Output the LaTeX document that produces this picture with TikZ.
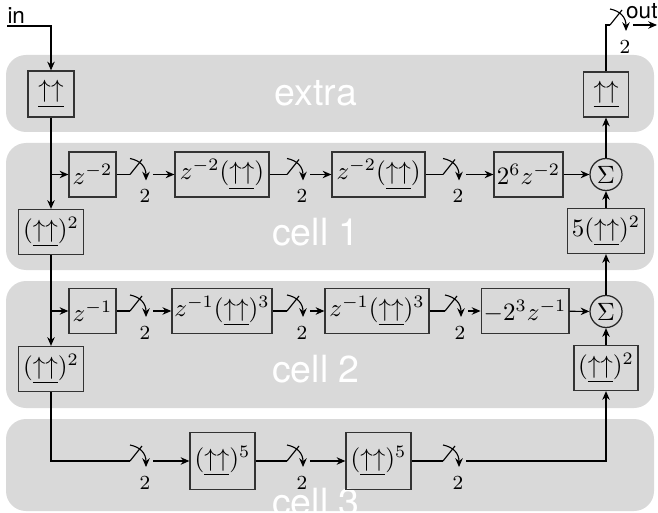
\documentclass[tikz,border=0pt]{standalone}
\usepackage{fontspec}
\setsansfont{TeX Gyre Heros}
\usetikzlibrary{arrows.meta}
\definecolor{bandgray}{RGB}{217,217,217}
\newcommand\ups{\underline{\uparrow\uparrow}}
\newcommand\swt[1]{%
  \begin{scope}[shift={(#1)}]
    \draw[wire] (0,0) -- (12,-15);
    \draw[wire,->] (0,-16) .. controls (10,-14) and (16,-8) .. (16,6);
    \node[lab] (#1l) at (15,22) {$2$};
    \coordinate (#1o) at (23,0);
  \end{scope}}
\begin{document}
\begin{tikzpicture}[x=0.4pt,y=-0.4pt,
  >={Stealth[length=3.5pt,width=3pt]},
  band/.style={fill=bandgray, rounded corners=8pt},
  bandlabel/.style={text=white, font=\fontsize{15}{18}\selectfont\sffamily, anchor=base, inner sep=0pt},
  blk/.style={draw=black!80, line width=0.5pt, inner sep=1pt, minimum height=18pt},
  sum/.style={circle, draw=black!85, line width=0.5pt, inner sep=0pt, minimum size=12.8pt},
  wire/.style={line width=0.45pt},
  lab/.style={font=\footnotesize, inner sep=0pt},
  io/.style={font=\sffamily\small, inner sep=0pt}]
\useasboundingbox (0,0) rectangle (658,512);
% bands
\fill[band] (6,55) rectangle (654,132);
\fill[band] (6,143) rectangle (654,270);
\fill[band] (6,281) rectangle (654,408);
\fill[band] (6,419) rectangle (654,511);
\node[bandlabel] (lx) at (316,106) {extra};
\node[bandlabel] (l1) at (316,245) {cell 1};
\node[bandlabel] (l2) at (316,382) {cell 2};
\node[bandlabel] (l3) at (316,515) {cell 3};
% blocks
\node[blk, minimum width=18.4pt, minimum height=18.4pt] (A) at (51,94) {$\ups$};
\node[blk, minimum width=18pt, minimum height=18pt] (B) at (606,94.5) {$\ups$};
% cell 1
\node[blk, minimum width=18.8pt] (c1a) at (92.5,174.5) {$z^{-2}$};
\node[blk, minimum width=37.6pt] (c1b) at (222,174.5) {$z^{-2}(\ups)$};
\node[blk, minimum width=37.2pt] (c1c) at (378.5,174.5) {$z^{-2}(\ups)$};
\node[blk, minimum width=27.6pt] (c1d) at (528.5,174.5) {$2^6z^{-2}$};
\node[sum] (S1) at (606,174.5) {$\Sigma$};
\node[blk, minimum width=30.8pt] (R1) at (606,231) {$5(\ups)^2$};
\node[blk, minimum width=26pt] (L1) at (51,232) {$(\ups)^2$};
% cell 2
\node[blk, minimum width=18.8pt] (c2a) at (92.5,311) {$z^{-1}$};
\node[blk, minimum width=40pt] (c2b) at (222,311) {$z^{-1}(\ups)^3$};
\node[blk, minimum width=41.6pt] (c2c) at (377,311) {$z^{-1}(\ups)^3$};
\node[blk, minimum width=32pt] (c2d) at (525,311) {$-2^3z^{-1}$};
\node[sum] (S2) at (606,311.5) {$\Sigma$};
\node[blk, minimum width=25.6pt] (R2) at (606,368) {$(\ups)^2$};
\node[blk, minimum width=26pt] (L2) at (51,369) {$(\ups)^2$};
% cell 3
\node[blk, minimum width=26pt, minimum height=22.8pt] (c3a) at (222.5,461) {$(\ups)^5$};
\node[blk, minimum width=26pt, minimum height=22.8pt] (c3b) at (378.5,461) {$(\ups)^5$};
% input / output
\coordinate (inS) at (7,26);
\node[io, anchor=south west] (intext) at (7,24) {in};
\draw[wire,->] (inS) -| (A);
\coordinate (so) at (610,25);
\draw[wire] (B) |- (so);
\swt{so}
\coordinate (outE) at (657,25);
\draw[wire,->] (soo) -- (outE);
\node[io, anchor=base east] (outtext) at (658,19) {out};
% left spine
\draw[wire,->] (A) -- (L1);
\draw[wire,->] (L1) -- (L2);
\coordinate (j1) at (51,174.5);
\coordinate (j2) at (51,311);
% cell 1 chain
\coordinate (s11) at (130,174.5);
\coordinate (s12) at (287,174.5);
\coordinate (s13) at (443,174.5);
\draw[wire,->] (j1) -- (c1a);
\draw[wire] (c1a) -- (s11);
\swt{s11}
\draw[wire,->] (s11o) -- (c1b);
\draw[wire] (c1b) -- (s12);
\swt{s12}
\draw[wire,->] (s12o) -- (c1c);
\draw[wire] (c1c) -- (s13);
\swt{s13}
\draw[wire,->] (s13o) -- (c1d);
\draw[wire,->] (c1d) -- (S1);
% cell 2 chain
\coordinate (s21) at (130,311);
\coordinate (s22) at (287,311);
\coordinate (s23) at (445,311);
\draw[wire,->] (j2) -- (c2a);
\draw[wire] (c2a) -- (s21);
\swt{s21}
\draw[wire,->] (s21o) -- (c2b);
\draw[wire] (c2b) -- (s22);
\swt{s22}
\draw[wire,->] (s22o) -- (c2c);
\draw[wire] (c2c) -- (s23);
\swt{s23}
\draw[wire,->] (s23o) -- (c2d);
\draw[wire,->] (c2d) -- (S2);
% cell 3 chain
\coordinate (s31) at (130,461);
\coordinate (s32) at (287,461);
\coordinate (s33) at (443,461);
\draw[wire] (L2) |- (s31);
\swt{s31}
\draw[wire,->] (s31o) -- (c3a);
\draw[wire] (c3a) -- (s32);
\swt{s32}
\draw[wire,->] (s32o) -- (c3b);
\draw[wire] (c3b) -- (s33);
\swt{s33}
\draw[wire,->] (s33o) -| (R2);
% right spine
\draw[wire,->] (R2) -- (S2);
\draw[wire,->] (S2) -- (R1);
\draw[wire,->] (R1) -- (S1);
\draw[wire,->] (S1) -- (B);
\end{tikzpicture}
\end{document}
